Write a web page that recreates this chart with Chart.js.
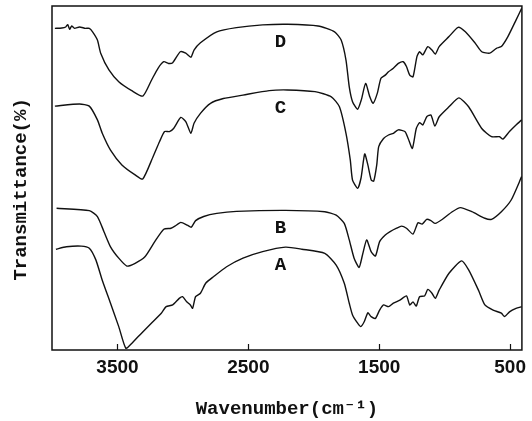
<!DOCTYPE html>
<html>
<head>
<meta charset="utf-8">
<script src="https://cdn.jsdelivr.net/npm/chart.js@4.4.1/dist/chart.umd.min.js"></script>
<style>
html,body{margin:0;padding:0;background:#fff;}
#wrap{width:532px;height:421px;position:relative;}
</style>
</head>
<body>
<div id="wrap"><canvas id="c" width="532" height="421"></canvas></div>
<script>
// ---- data (wavenumber cm-1, transmittance arbitrary %) ----
const waveD = [3978,3925,3895,3880,3865,3850,3828,3790,3745,3715,3690,3653,3628,3565,3490,3391,3306,3239,3190,3146,3110,3078,3020,2978,2939,2915,2866,2741,2591,2391,2201,1967,1841,1791,1754,1729,1704,1665,1637,1604,1572,1547,1515,1487,1454,1429,1392,1354,1317,1292,1267,1242,1212,1192,1167,1129,1097,1072,1042,967,897,842,767,717,655,605,567,517,455,412];
const transD = [93.5,93.6,93.9,94.6,93.2,94.2,93.5,93.9,93.5,93.5,92.5,90.1,86.3,81.4,78.0,75.4,73.8,78.5,81.9,83.8,83.3,83.5,86.7,86.3,85.1,87.2,89.3,92.5,93.7,94.5,94.7,94.2,92.5,90.1,84.3,76.5,72.2,70.0,72.7,77.5,73.6,71.7,74.6,79.0,79.9,80.9,81.9,83.3,83.8,82.4,79.9,79.4,85.3,86.7,85.8,88.2,87.2,86.0,88.2,91.1,93.8,92.5,89.2,86.7,86.3,87.7,88.2,91.1,95.9,99.3];

const waveC = [3978,3790,3715,3653,3616,3553,3466,3365,3307,3228,3178,3140,3103,3071,3016,2978,2939,2915,2866,2789,2691,2541,2341,2201,1991,1866,1804,1754,1721,1704,1665,1639,1611,1587,1561,1542,1519,1504,1467,1429,1392,1354,1304,1279,1247,1217,1192,1167,1137,1105,1075,1042,967,892,817,717,642,580,555,505,455,412];
const transC = [70.9,71.5,70.9,66.9,63.0,58.1,53.8,50.9,49.7,56.2,60.6,63.5,63.5,64.4,67.6,66.4,63.0,65.9,68.8,71.7,73.1,74.1,75.4,75.6,75.1,73.6,70.7,63.0,55.2,49.4,47.0,50.0,57.0,53.8,49.4,49.1,53.8,59.1,61.5,62.5,63.0,64.0,63.5,61.5,58.6,64.4,66.1,65.4,67.8,68.3,65.1,67.8,70.7,73.3,70.7,64.4,62.0,62.0,61.3,63.5,65.4,66.9];

const waveB = [3965,3715,3653,3603,3553,3490,3428,3365,3290,3215,3146,3091,3061,3016,2966,2936,2903,2841,2741,2591,2216,1916,1829,1767,1729,1692,1654,1628,1596,1562,1529,1497,1454,1417,1367,1330,1292,1242,1204,1172,1137,1105,1072,1017,942,880,792,693,642,567,492,412];
const transB = [41.2,40.5,38.8,34.4,30.0,26.7,24.4,25.2,27.1,31.5,35.1,35.4,36.0,37.1,36.3,35.7,37.6,38.8,39.7,40.3,40.6,40.2,39.2,36.8,32.0,26.7,24.0,27.6,32.0,28.6,27.3,31.5,33.4,34.4,35.4,36.0,35.4,33.7,37.0,36.6,38.0,37.6,36.8,38.0,40.2,41.4,40.2,38.3,38.0,40.2,43.6,50.4];

const waveA = [3970,3890,3777,3715,3665,3616,3553,3490,3436,3391,3316,3241,3165,3128,3078,3028,3003,2971,2943,2926,2903,2866,2826,2766,2666,2541,2391,2216,2091,1916,1829,1767,1729,1704,1665,1641,1615,1587,1562,1529,1497,1467,1429,1392,1342,1292,1267,1242,1217,1192,1154,1129,1097,1072,1042,967,872,817,742,693,630,567,542,505,455,412];
const transA = [29.3,30.0,30.2,29.6,26.2,20.3,13.6,6.8,0.5,1.9,4.9,7.8,10.7,12.6,13.1,15.0,15.5,14.0,13.1,12.1,15.5,16.5,19.4,21.3,24.2,26.7,28.6,29.9,29.3,28.1,24.7,19.4,13.6,10.2,7.8,6.8,8.2,10.8,9.7,9.2,11.6,13.1,12.6,13.6,14.5,15.7,13.1,14.0,12.8,15.5,15.7,17.6,16.5,15.0,17.4,22.3,25.9,23.3,17.4,13.1,11.6,10.7,9.7,11.1,12.1,12.6];

const seriesNames = ['A','B','C','D'];
const labelWave = [2255,2255,2255,2255];
const labelTrans = [24.7,35.5,70.3,89.6];
const xTicks = [3500,2500,1500,500];

function pts(w,t){ return w.map((v,i)=>({x:v,y:t[i]})); }
const allSeries = {A:[waveA,transA],B:[waveB,transB],C:[waveC,transC],D:[waveD,transD]};

const lineStyle = {borderColor:'#111',borderWidth:1.4,pointRadius:0,tension:0.2,fill:false};

const framePlugin = {
  id:'frame',
  afterDraw(chart){
    const {ctx, chartArea:a, scales} = chart;
    ctx.save();
    ctx.strokeStyle = '#111';
    ctx.lineWidth = 1.5;
    ctx.strokeRect(a.left, a.top, a.right - a.left, a.bottom - a.top);
    // inward tick marks
    ctx.lineWidth = 1.2;
    xTicks.forEach(v=>{
      const px = Math.round(scales.x.getPixelForValue(v)) + 0.5;
      ctx.beginPath(); ctx.moveTo(px, a.bottom); ctx.lineTo(px, a.bottom - 6); ctx.stroke();
    });
    // curve labels
    ctx.fillStyle = '#111';
    ctx.font = 'bold 19px "Liberation Mono", monospace';
    ctx.textAlign = 'center';
    ctx.textBaseline = 'middle';
    seriesNames.forEach((n,i)=>{
      ctx.fillText(n, scales.x.getPixelForValue(labelWave[i]), scales.y.getPixelForValue(labelTrans[i]));
    });
    ctx.restore();
  }
};

new Chart(document.getElementById('c'), {
  type:'line',
  data:{
    datasets: seriesNames.map(n=>Object.assign({label:n, data:pts(allSeries[n][0], allSeries[n][1])}, lineStyle))
  },
  options:{
    responsive:false,
    animation:false,
    layout:{padding:{top:6,right:1,left:0,bottom:0}},
    plugins:{legend:{display:false},tooltip:{enabled:false}},
    scales:{
      x:{
        type:'linear', reverse:true, min:410, max:4000,
        afterBuildTicks(s){ s.ticks = xTicks.map(v=>({value:v})); },
        afterFit(s){ s.height = 71; },
        grid:{display:false, drawTicks:false},
        border:{display:false},
        ticks:{padding:6, color:'#111', callback:(v)=>String(v), font:{family:'"Liberation Sans", Arial, sans-serif', size:19, weight:'bold'}, maxRotation:0, autoSkip:false},
        title:{display:true, text:'Wavenumber(cm\u207B\u00B9)', color:'#111', padding:{top:0,bottom:0}, font:{family:'"Liberation Mono", monospace', size:19, weight:'bold'}}
      },
      y:{
        min:0, max:100,
        afterFit(s){ s.width = 52; },
        grid:{display:false, drawTicks:false},
        border:{display:false},
        ticks:{display:false},
        title:{display:true, text:'Transmittance(%)  ', color:'#111', padding:{top:10,bottom:0}, font:{family:'"Liberation Mono", monospace', size:19, weight:'bold'}}
      }
    }
  },
  plugins:[framePlugin]
});
</script>
</body>
</html>
